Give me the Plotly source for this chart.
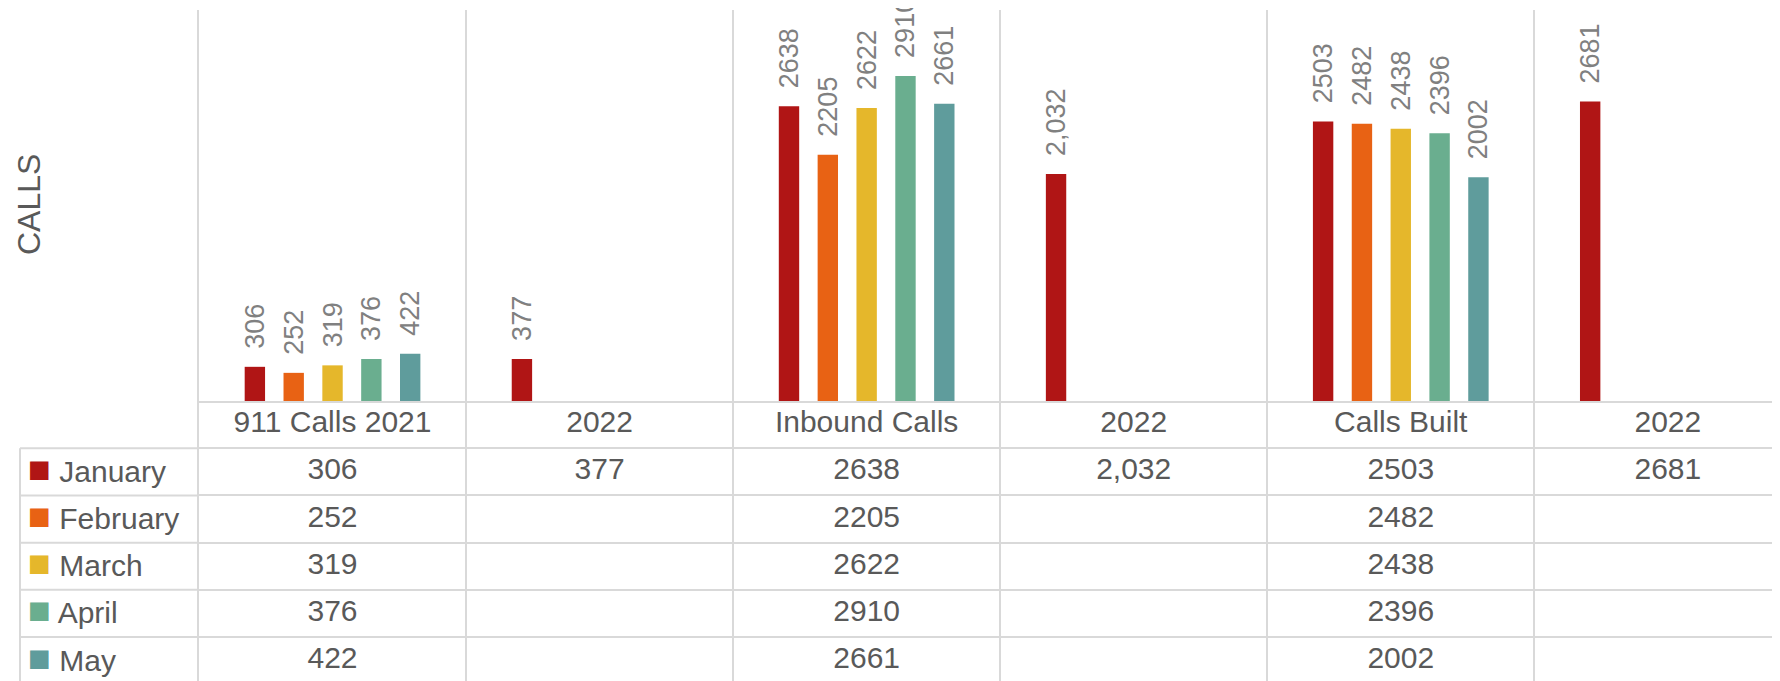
import plotly.graph_objects as go

# ---------------- data ----------------
categories = ["911 Calls 2021", "2022", "Inbound Calls", "2022", "Calls Built", "2022"]
months = ["January", "February", "March", "April", "May"]
january = [306, 377, 2638, 2032, 2503, 2681]
february = [252, None, 2205, None, 2482, None]
march = [319, None, 2622, None, 2438, None]
april = [376, None, 2910, None, 2396, None]
may = [422, None, 2661, None, 2002, None]
month_colors = ["#B01515", "#E86214", "#E5B72B", "#6AAE8F", "#5F9C9C"]
comma_columns = [3]  # the Inbound "2022" cell is displayed with a thousands separator

series = [january, february, march, april, may]
x_idx = list(range(len(categories)))

# ---------------- style ----------------
# the page body adds an 8px margin, so the figure is sized/positioned to compensate
W, H = 1772, 673
FONT = "Liberation Sans"
GRID = "#D9D9D9"
TXT = "#595959"
LBL = "#808080"
left_px, top_px, base_px, table_left_px = 191, 2, 393, 12

def fmt(v, col):
    if v is None:
        return ""
    return f"{v:,}" if col in comma_columns else str(v)

fig = go.Figure()

# bars
for name, vals, col in zip(months, series, month_colors):
    labels = [("\u00a0\u00a0" + fmt(v, i)) if v is not None else "" for i, v in enumerate(vals)]
    fig.add_trace(go.Bar(
        x=x_idx, y=vals, name=name, marker_color=col, marker_line_width=0,
        text=labels, textposition="outside", textangle=-90, cliponaxis=False,
        constraintext="none", textfont=dict(family=FONT, size=27, color=LBL),
        xaxis="x", yaxis="y", showlegend=False, hoverinfo="skip"))

# data table: header row (category names) and value rows
fig.add_trace(go.Scatter(
    x=x_idx, y=[-1] * len(categories), mode="text", text=categories,
    textfont=dict(family=FONT, size=30, color=TXT), xaxis="x2", yaxis="y2",
    showlegend=False, hoverinfo="skip", cliponaxis=False))
for r, vals in enumerate(series):
    fig.add_trace(go.Scatter(
        x=x_idx, y=[r] * len(categories), mode="text",
        text=[fmt(v, i) for i, v in enumerate(vals)],
        textfont=dict(family=FONT, size=30, color=TXT), xaxis="x2", yaxis="y2",
        showlegend=False, hoverinfo="skip", cliponaxis=False))

bounds_x = [i - 0.5 for i in range(len(categories) + 1)]
bounds_y = [r - 0.5 for r in range(len(months) + 1)]

# row header borders (left of the plot area)
shapes = []
for b in bounds_y:
    shapes.append(dict(type="line", xref="paper", yref="y2", x0=table_left_px / W,
                       x1=left_px / W, y0=b, y1=b, line=dict(color=GRID, width=2)))
shapes.append(dict(type="line", xref="paper", yref="y2", x0=table_left_px / W,
                   x1=table_left_px / W, y0=-0.5, y1=len(months) - 0.5,
                   line=dict(color=GRID, width=2)))

annotations = []
for r, (m, c) in enumerate(zip(months, month_colors)):
    annotations.append(dict(
        text=f'<span style="color:{c};font-size:38px">■</span> {m}', xref="paper", yref="y2",
        x=18 / W, y=r, xanchor="left", yanchor="middle", yshift=3, showarrow=False,
        font=dict(family=FONT, size=30, color=TXT)))
annotations.append(dict(
    text="CALLS", xref="paper", yref="paper", x=21 / W, y=(H - 197) / H,
    xanchor="center", yanchor="middle", textangle=-90, showarrow=False,
    font=dict(family=FONT, size=32, color=TXT)))

xdom = [left_px / W, 1]
fig.update_layout(
    width=W, height=H, margin=dict(l=0, r=0, t=0, b=0),
    paper_bgcolor="white", plot_bgcolor="white",
    barmode="group", bargap=0.273, bargroupgap=0.475,
    xaxis=dict(domain=xdom, anchor="y", range=[-0.5, 5.42], tickmode="array",
               tickvals=bounds_x, showticklabels=False, ticks="", showgrid=True,
               gridcolor=GRID, gridwidth=1.5, zeroline=False, showline=True,
               linecolor=GRID, linewidth=2),
    yaxis=dict(domain=[(H - base_px) / H, (H - top_px) / H], anchor="x", range=[0, 3500],
               showticklabels=False, showgrid=False, zeroline=False, showline=True,
               linecolor=GRID, linewidth=1.5, ticks=""),
    xaxis2=dict(domain=xdom, anchor="y2", matches="x", tickmode="array", tickvals=bounds_x,
                showticklabels=False, ticks="", showgrid=True, gridcolor=GRID,
                gridwidth=1.5, zeroline=False, showline=False),
    yaxis2=dict(domain=[0, (H - base_px) / H], anchor="x2", range=[4.43, -1.5],
                tickmode="array", tickvals=bounds_y, showticklabels=False, ticks="",
                showgrid=True, gridcolor=GRID, gridwidth=2, zeroline=False,
                showline=True, linecolor=GRID, linewidth=1.5),
    shapes=shapes, annotations=annotations,
)

fig.write_html("out.html")
